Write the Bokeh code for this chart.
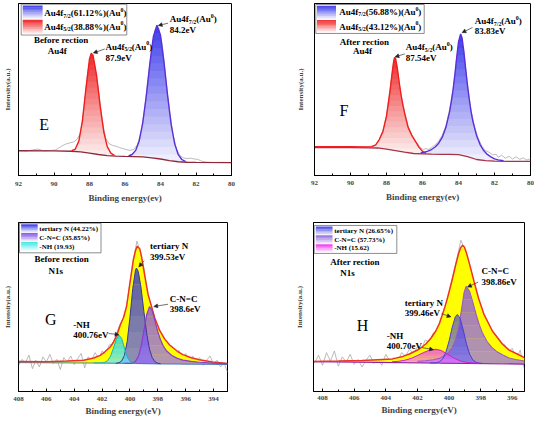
import numpy as np
from bokeh.plotting import figure
from bokeh.layouts import column, row
from bokeh.models import Range1d, SingleIntervalTicker, FixedTicker, Label, Arrow, NormalHead
from bokeh.embed import file_html
from bokeh.resources import INLINE

SERIF = "Liberation Serif"

# ---------------- data ----------------
# Panel E : Au4f before reaction
E_bg_x = [92, 90, 89, 88.5, 88, 87.5, 87, 86.5, 86, 85.5, 85, 84.5, 84, 83.5, 83, 82.5, 82, 80]
E_bg_y = [14.4, 14.3, 14.1, 13.7, 13.0, 12.2, 11.6, 11.3, 11.1, 11.0, 10.8, 10.3, 9.6, 8.7, 8.0, 7.7, 7.6, 7.5]
E_p52_x = [89.0, 88.8, 88.6, 88.4, 88.2, 88.0, 87.9, 87.8, 87.6, 87.4, 87.2, 87.0, 86.8, 86.6]
E_p52_y = [14.4, 15.4, 20.0, 31.6, 50.7, 67.8, 71.1, 69.8, 58.0, 40.5, 25.6, 16.8, 13.0, 11.75]
E_p72_x = [85.8, 85.6, 85.4, 85.2, 85.0, 84.8, 84.6, 84.4, 84.2, 84.0, 83.8, 83.6, 83.4, 83.2, 83.0, 82.8, 82.6]
E_p72_y = [11.35, 12.2, 14.6, 20.1, 30.6, 46.3, 65.0, 80.9, 87.4, 81.5, 65.6, 46.4, 29.7, 18.4, 12.1, 9.3, 8.2]
E_raw_x = [92.0, 91.6, 91.2, 90.9, 90.6, 90.2, 89.9, 89.7, 89.5, 89.3, 89.1, 88.9, 88.7, 88.5, 88.3, 88.1,
           87.9, 87.7, 87.5, 87.3, 87.1, 86.9, 86.7, 86.5, 86.3, 86.1, 85.9, 85.7, 85.5, 85.3, 85.1, 84.9,
           84.7, 84.5, 84.3, 84.1, 83.9, 83.7, 83.5, 83.3, 83.1, 82.9, 82.7, 82.5, 82.3, 82.1, 81.9, 81.7,
           81.4, 81.0, 80.5, 80.0]
E_raw_y = [14.6, 14.2, 14.8, 15.4, 14.3, 14.5, 14.9, 16.2, 17.5, 18.4, 19.0, 19.5, 21.0, 25.0, 40.0, 60.0,
           70.5, 64.0, 50.0, 33.0, 22.0, 18.5, 17.5, 17.0, 16.2, 15.6, 15.0, 14.6, 15.2, 18.0, 25.0, 38.0,
           56.0, 73.0, 85.0, 86.0, 76.0, 56.0, 38.0, 24.0, 15.5, 11.5, 10.2, 9.8, 10.1, 9.6, 9.4, 8.4,
           7.8, 7.6, 7.7, 7.4]

# Panel F : Au4f after reaction
F_bg_x = [92, 90, 89, 88.5, 88, 87.5, 87, 86.5, 86, 85.5, 85, 84.5, 84, 83.5, 83, 82.5, 82, 80]
F_bg_y = [16.2, 16.2, 16.1, 16.0, 15.3, 14.5, 13.6, 12.8, 12.6, 12.4, 12.3, 12.3, 12.1, 11.0, 9.3, 8.6, 8.3, 8.2]
F_p52_x = [92.0, 90.0, 89.2, 88.8, 88.6, 88.4, 88.2, 88.0, 87.9, 87.8, 87.7, 87.6, 87.55, 87.5, 87.4,
           87.3, 87.2, 87.1, 87.0, 86.8, 86.6, 86.4, 86.2, 86.0, 85.8]
F_p52_y = [16.8, 16.8, 16.6, 16.8, 17.8, 20.9, 25.5, 34.5, 41.9, 49.5, 58.5, 66.5, 68.6, 68.0, 62.5,
           54.5, 47.5, 41.5, 36.5, 28.0, 23.5, 20.0, 16.5, 14.0, 12.9]
F_p72_x = [86.1, 85.9, 85.7, 85.5, 85.3, 85.1, 84.9, 84.7, 84.5, 84.4, 84.3, 84.2, 84.1, 84.0, 83.88,
           83.8, 83.7, 83.6, 83.5, 83.4, 83.3, 83.2, 83.0, 82.8, 82.6, 82.4, 82.2, 82.0, 81.8, 81.5]
F_p72_y = [13.1, 13.55, 14.2, 15.1, 16.55, 18.8, 22.3, 28.0, 36.8, 42.95, 50.0, 58.7, 68.75, 77.6, 82.3,
           79.9, 71.8, 61.7, 52.3, 44.2, 37.0, 31.5, 23.3, 18.0, 14.5, 12.25, 10.8, 9.7, 9.1, 8.6]
F_raw_x = [92.0, 91.5, 91.0, 90.5, 90.0, 89.5, 89.0, 88.6, 88.4, 88.2, 88.0, 87.8, 87.6, 87.5, 87.4,
           87.2, 87.0, 86.8, 86.6, 86.4, 86.2, 86.1, 85.95, 85.8, 85.7, 85.5, 85.3, 85.1, 84.9, 84.7,
           84.5, 84.3, 84.1, 83.9, 83.7, 83.5, 83.3, 83.1, 82.9, 82.7, 82.5, 82.3, 82.1, 81.9, 81.8,
           81.6, 81.4, 81.2, 81.0, 80.8, 80.6, 80.4, 80.2, 80.0]
F_raw_y = [16.9, 16.6, 16.8, 16.5, 16.9, 16.6, 16.8, 17.6, 21.0, 26.0, 35.0, 50.0, 66.0, 68.5, 62.0,
           47.0, 37.0, 28.5, 23.5, 20.0, 17.5, 16.0, 15.0, 15.8, 15.0, 16.2, 17.8, 20.0, 23.5, 29.0,
           38.0, 50.0, 68.0, 81.5, 72.0, 52.5, 37.5, 28.0, 21.5, 17.0, 14.5, 13.5, 12.0, 12.3, 10.5,
           11.8, 10.0, 11.2, 9.6, 10.9, 9.4, 10.2, 9.0, 9.8]

# Panel G : N1s before reaction
G_bg_x = [408, 402, 400, 398, 393]
G_bg_y = [17.1, 16.8, 16.6, 16.3, 16.0]
G_env_x = [408, 406, 404.5, 403.33, 402.6, 402.14, 401.8, 401.42, 401.2, 400.95, 400.67, 400.46, 400.24,
           400.0, 399.76, 399.6, 399.48, 399.3, 399.17, 398.93, 398.7, 398.46, 398.22, 397.86, 397.5,
           397.15, 396.6, 396.2, 395.6, 395.02, 394.07, 393.0]
G_env_y = [17.7, 17.6, 18.0, 18.5, 19.8, 21.4, 23.5, 26.3, 29.0, 33.1, 39.9, 43.8, 50.6,
           64.2, 77.8, 83.5, 86.0, 84.5, 79.8, 68.1, 57.4, 50.5, 43.5, 36.0, 31.0,
           27.5, 23.8, 21.8, 20.0, 18.8, 17.4, 16.6]
G_t_x = [401.0, 400.8, 400.6, 400.4, 400.2, 400.0, 399.8, 399.6, 399.53, 399.4, 399.2, 399.0, 398.8,
         398.6, 398.4, 398.2, 398.0, 397.8]
G_t_y = [16.75, 17.0, 18.0, 21.3, 29.5, 43.9, 61.0, 72.1, 73.0, 71.0, 61.1, 47.3, 34.3,
         25.1, 20.0, 17.6, 16.7, 16.4]
G_c_x = [400.4, 400.0, 399.8, 399.6, 399.4, 399.2, 399.0, 398.8, 398.6, 398.4, 398.2, 398.0, 397.8,
         397.6, 397.4, 397.0, 396.6, 396.2, 395.6, 395.0, 394.0, 393.0]
G_c_y = [16.6, 16.66, 16.9, 17.9, 20.6, 26.7, 36.0, 45.5, 50.2, 47.8, 41.7, 35.4, 30.4,
         26.8, 24.3, 21.3, 19.6, 18.6, 17.8, 17.3, 16.8, 16.5]
G_n_x = [402.6, 402.2, 402.0, 401.8, 401.6, 401.4, 401.2, 401.0, 400.8, 400.6, 400.4, 400.2, 400.0, 399.8, 399.6]
G_n_y = [16.9, 16.9, 16.95, 17.3, 18.3, 20.8, 25.3, 30.5, 33.4, 31.5, 25.8, 20.6, 17.8, 16.85, 16.6]
G_raw_x = [408.0, 407.75, 407.5, 407.25, 407.0, 406.75, 406.5, 406.25, 406.0, 405.75,
           405.5, 405.25, 405.0, 404.75, 404.5, 404.25, 404.0, 403.75, 403.5, 403.25,
           403.0, 402.75, 402.5, 402.25, 402.0, 401.75, 401.5, 401.25, 401.0, 400.75,
           400.5, 400.25, 400.0, 399.75, 399.5, 399.25, 399.0, 398.75, 398.5, 398.25,
           398.0, 397.75, 397.5, 397.25, 397.0, 396.75, 396.5, 396.25, 396.0, 395.75,
           395.5, 395.25, 395.0, 394.75, 394.5, 394.25, 394.0, 393.75, 393.5, 393.25, 393.0]
G_raw_y = [15.5, 19.0, 17.0, 21.5, 13.5, 18.5, 14.5, 20.5, 17.5, 22.0,
           16.5, 19.0, 13.0, 20.0, 17.5, 21.0, 16.0, 19.5, 22.5, 14.0,
           20.5, 18.5, 23.0, 19.5, 24.0, 22.0, 27.5, 28.0, 33.5, 39.0,
           43.0, 49.5, 65.0, 78.0, 89.0, 82.0, 73.0, 57.0, 51.5, 44.0,
           36.5, 33.0, 30.5, 25.5, 27.0, 22.0, 24.5, 19.5, 22.5, 18.0,
           21.0, 17.0, 20.0, 15.5, 18.5, 21.0, 16.0, 18.5, 14.5, 17.0, 11.5]

# Panel H : N1s after reaction
H_bg_x = [408.57, 395.23]
H_bg_y = [17.7, 16.2]
H_env_x = [408.57, 407.0, 405.5, 404.5, 403.57, 403.0, 402.51, 401.9, 401.47, 401.15, 400.84, 400.6,
           400.42, 400.25, 400.1, 399.83, 399.58, 399.4, 399.27, 399.15, 399.03, 398.9, 398.69,
           398.42, 398.14, 397.79, 397.26, 396.63, 396.2, 395.69, 395.23]
H_env_y = [17.8, 18.0, 18.3, 18.8, 19.3, 20.5, 22.2, 25.0, 28.1, 31.5, 35.8, 40.5,
           45.6, 50.5, 55.3, 65.1, 74.9, 81.5, 85.0, 86.5, 85.5, 82.0, 74.9,
           65.1, 55.3, 45.6, 35.8, 28.1, 24.5, 22.2, 20.0]
H_t_x = [401.2, 400.8, 400.6, 400.4, 400.2, 400.0, 399.8, 399.6, 399.47, 399.3, 399.1, 398.9, 398.7,
         398.5, 398.3, 398.1, 397.9]
H_t_y = [16.9, 17.0, 17.6, 19.3, 23.2, 29.8, 38.0, 44.3, 45.6, 43.3, 36.3, 28.2, 22.1,
         18.7, 17.3, 16.8, 16.65]
H_c_x = [402.0, 401.5, 401.0, 400.6, 400.2, 400.0, 399.8, 399.6, 399.4, 399.2, 399.05, 398.92, 398.7,
         398.5, 398.3, 398.1, 397.9, 397.6, 397.3, 397.0, 396.6, 396.2, 395.8, 395.23]
H_c_y = [17.9, 18.2, 18.8, 19.6, 21.7, 23.4, 25.9, 30.3, 37.6, 49.2, 58.6, 62.2, 59.2,
         53.0, 46.0, 39.8, 34.9, 29.6, 26.1, 23.7, 21.6, 19.8, 18.9, 18.0]
H_n_x = [403.6, 403.2, 402.8, 402.4, 402.0, 401.6, 401.2, 400.84, 400.5, 400.1, 399.7, 399.3, 398.9, 398.5, 398.1]
H_n_y = [17.6, 17.85, 18.5, 19.6, 21.3, 23.1, 24.6, 25.0, 24.3, 22.1, 19.8, 18.1, 17.2, 16.9, 16.8]
H_raw_x = [408.5, 408.25, 408.0, 407.75, 407.5, 407.25, 407.0, 406.75, 406.5, 406.25,
           406.0, 405.75, 405.5, 405.25, 405.0, 404.75, 404.5, 404.25, 404.0, 403.75,
           403.5, 403.25, 403.0, 402.75, 402.5, 402.25, 402.0, 401.75, 401.5, 401.25,
           401.0, 400.75, 400.5, 400.25, 400.0, 399.75, 399.5, 399.25, 399.0, 398.75,
           398.5, 398.25, 398.0, 397.75, 397.5, 397.25, 397.0, 396.75, 396.5, 396.25,
           396.0, 395.75, 395.5, 395.25]
H_raw_y = [17.0, 21.5, 15.5, 23.0, 18.0, 24.0, 15.0, 20.5, 17.5, 22.0,
           16.0, 19.0, 14.5, 18.5, 21.5, 16.5, 19.0, 15.5, 22.0, 18.0,
           20.0, 17.5, 23.0, 21.0, 25.0, 22.5, 26.5, 25.0, 30.5, 29.0,
           34.5, 36.0, 43.0, 50.0, 58.0, 69.0, 79.0, 89.5, 84.0, 76.0,
           66.0, 58.5, 49.0, 44.0, 40.0, 35.0, 33.0, 28.5, 28.0, 24.0,
           25.5, 19.0, 24.5, 13.5]

# legend / annotation texts
E_legend = ["61.12%", "38.88%"]
F_legend = ["56.88%", "43.12%"]
G_legend = ["tertiary N (44.22%)", "C-N=C (35.85%)", "-NH (19.93)"]
H_legend = ["tertiary N (26.65%)", "C-N=C (57.73%)", "-NH (15.62)"]

# ---------------- helpers ----------------
W = {'A': .722, 'u': .556, 'f': .333, '(': .333, ')': .333, '.': .25, '%': 1.0, '/': .278, ' ': .25,
     'e': .444, 'V': .722, 'N': .722, 'C': .722, '=': .570, '-': .333, 'H': .778, 't': .333, 'r': .444,
     'i': .278, 'a': .5, 'y': .5, 'n': .556, 's': .389}


def width_px(s, size):
    return sum(W.get(ch, 0.5) for ch in s) * size


def mix(c1, c2, t):
    return "#%02x%02x%02x" % tuple(int(round(a + (b - a) * t)) for a, b in zip(c1, c2))


GEOM = {
    "E": dict(origin=(8, 8), frame=(24, 239, 11, 183), xr=(92, 80)),
    "F": dict(origin=(275, 8), frame=(322, 538, 9, 183), xr=(92, 80)),
    "G": dict(origin=(8, 217), frame=(24, 235, 229, 400), xr=(408, 393)),
    "H": dict(origin=(275, 217), frame=(321, 532, 230, 401), xr=(408.57, 395.23)),
}


def P(g, px, py):
    fl, fr, ft, fb = g["frame"]
    x0, x1 = g["xr"]
    return x0 + (px - fl) / (fr - fl) * (x1 - x0), (fb - py) / (fb - ft) * 100.0


def make_fig(g, xlabel, ylab_so, tick_so, title_so):
    ox, oy = g["origin"]
    fl, fr, ft, fb = g["frame"]
    p = figure(width=267, height=209, x_range=Range1d(*g["xr"]), y_range=Range1d(0, 100),
               output_backend="svg", toolbar_location=None, title=None,
               min_border_left=fl - ox, min_border_right=ox + 267 - fr,
               min_border_top=ft - oy, min_border_bottom=oy + 209 - fb)
    p.xgrid.visible = False
    p.ygrid.visible = False
    p.outline_line_color = "black"
    p.outline_line_width = 1
    p.outline_line_alpha = 1
    p.background_fill_color = "white"
    p.border_fill_color = "white"
    xa = p.xaxis[0]
    xa.ticker = SingleIntervalTicker(interval=2, num_minor_ticks=2)
    xa.axis_label = xlabel
    xa.axis_label_text_font = SERIF
    xa.axis_label_text_font_style = "bold"
    xa.axis_label_text_font_size = "9px"
    xa.axis_label_standoff = title_so
    xa.major_label_text_font = SERIF
    xa.major_label_text_font_style = "bold"
    xa.major_label_text_font_size = "7px"
    xa.major_label_standoff = tick_so
    xa.major_tick_in = 3
    xa.major_tick_out = 0
    xa.minor_tick_in = 2
    xa.minor_tick_out = 0
    xa.axis_line_color = "black"
    xa.major_tick_line_color = "black"
    xa.minor_tick_line_color = "black"
    ya = p.yaxis[0]
    ya.ticker = FixedTicker(ticks=[])
    ya.major_tick_in = 0
    ya.major_tick_out = 0
    ya.minor_tick_in = 0
    ya.minor_tick_out = 0
    ya.major_label_standoff = 0
    ya.major_label_text_font_size = "0px"
    ya.axis_label = "Intensity(a.u.)"
    ya.axis_label_text_font = SERIF
    ya.axis_label_text_font_style = "bold"
    ya.axis_label_text_font_size = "7px"
    ya.axis_label_standoff = ylab_so
    ya.axis_line_color = "black"
    return p


def sorted_xy(x, y):
    x = np.asarray(x, float)
    y = np.asarray(y, float)
    o = np.argsort(x)
    return x[o], y[o]


def grad_fill(p, xs, ys, bx, by, c_top, c_bot, alpha=1.0, n=18):
    xs, ys = sorted_xy(xs, ys)
    bx, by = sorted_xy(bx, by)
    xd = np.linspace(xs[0], xs[-1], 500)
    yd = np.interp(xd, xs, ys)
    bd = np.interp(xd, bx, by)
    lo, hi = bd.min(), yd.max()
    lev = np.linspace(lo, hi, n + 1)
    eps = 0.0 if alpha < 1 else (hi - lo) / n * 0.2
    for k in range(n):
        y1 = np.maximum(bd, lev[k])
        y2 = np.maximum(np.minimum(yd, lev[k + 1] + eps), y1)
        p.varea(x=xd, y1=y1, y2=y2, fill_color=mix(c_bot, c_top, (k + 0.5) / n), fill_alpha=alpha)


def solid_fill(p, xs, ys, bx, by, color):
    xs, ys = sorted_xy(xs, ys)
    bx, by = sorted_xy(bx, by)
    p.varea(x=xs, y1=np.interp(xs, bx, by), y2=ys, fill_color=color, fill_alpha=1)


def swatch(p, g, px0, px1, py0, py1, c_top, c_bot, n=8):
    x0, yt = P(g, px0, py0)
    x1, yb = P(g, px1, py1)
    lev = np.linspace(yb, yt, n + 1)
    d = (yt - yb) / n * 0.2
    p.quad(left=[x0] * n, right=[x1] * n, bottom=list(lev[:-1]), top=list(lev[1:] + d),
           fill_color=[mix(c_bot, c_top, (k + 0.5) / n) for k in range(n)], line_color=None)


def box(p, g, px0, px1, py0, py1):
    x0, yt = P(g, px0, py0)
    x1, yb = P(g, px1, py1)
    p.quad(left=[x0], right=[x1], top=[yt], bottom=[yb], fill_color="white",
           line_color="#707070", line_width=0.8)


def txt(p, g, px, py, s, size=9, align="left", style="bold"):
    x, y = P(g, px, py)
    p.add_layout(Label(x=x, y=y, text=s, text_font=SERIF, text_font_style=style,
                       text_font_size="%.1fpx" % size, text_align=align, text_baseline="middle",
                       text_color="black"))


def rich(p, g, px, py, parts, size=9):
    x, y = P(g, px, py)
    off = 0.0
    for s, kind in parts:
        fs = size if kind == "n" else size * 0.65
        dy = 0.0 if kind == "n" else (-0.28 * size if kind == "sub" else 0.36 * size)
        p.add_layout(Label(x=x, y=y, x_offset=off, y_offset=dy, text=s, text_font=SERIF,
                           text_font_style="bold", text_font_size="%.1fpx" % fs,
                           text_align="left", text_baseline="middle", text_color="black"))
        off += width_px(s, fs)


def arrow(p, g, a, b):
    x0, y0 = P(g, *a)
    x1, y1 = P(g, *b)
    p.add_layout(Arrow(x_start=x0, y_start=y0, x_end=x1, y_end=y1, line_color="#333333",
                       line_width=0.7, end=NormalHead(size=4, fill_color="#222222",
                                                      line_color="#222222", line_width=0.5)))


def au_parts(sub, pct=None):
    if pct is None:
        return [("Au4f", "n"), (sub, "sub"), ("(Au", "n"), ("0", "sup"), (")", "n")]
    return [("Au4f", "n"), (sub, "sub"), ("(%s)(Au" % pct, "n"), ("0", "sup"), (")", "n")]


RED_TOP, RED_BOT = (238, 40, 40), (253, 242, 242)
BLUE_TOP, BLUE_BOT = (60, 60, 235), (243, 243, 253)
RAW = "#a9a9a9"

# ---------------- panel E ----------------
g = GEOM["E"]
pE = make_fig(g, "Binding energy(ev)", 7, 6, 4)
pE.line(E_raw_x, E_raw_y, line_color=RAW, line_width=0.8)
grad_fill(pE, E_p52_x, E_p52_y, E_bg_x, E_bg_y, RED_TOP, RED_BOT)
grad_fill(pE, E_p72_x, E_p72_y, E_bg_x, E_bg_y, BLUE_TOP, BLUE_BOT)
pE.line(E_bg_x, E_bg_y, line_color="#8c2a3a", line_width=1.3)
pE.line(E_p52_x, E_p52_y, line_color="#f21d1d", line_width=1.4)
pE.line(E_p72_x, E_p72_y, line_color="#5a2fd9", line_width=1.4)
box(pE, g, 26.7, 133.3, 11.7, 42.5)
swatch(pE, g, 28.3, 48.3, 13.3, 26.7, BLUE_TOP, (255, 255, 255))
swatch(pE, g, 28.3, 48.3, 27.7, 41.7, RED_TOP, (255, 255, 255))
rich(pE, g, 50, 20.7, au_parts("7/2", E_legend[0]))
rich(pE, g, 50, 34.0, au_parts("5/2", E_legend[1]))
txt(pE, g, 67, 47.7, "Before rection", align="center")
txt(pE, g, 63, 58.3, "Au4f", align="center")
rich(pE, g, 111.7, 54.0, au_parts("5/2"))
txt(pE, g, 111.7, 65.7, "87.9eV")
rich(pE, g, 176.7, 26.7, au_parts("7/2"))
txt(pE, g, 176.7, 37.7, "84.2eV")
arrow(pE, g, (111, 56.5), (99.5, 60.5))
arrow(pE, g, (175, 30.7), (165, 33))
txt(pE, g, 50, 131.7, "E", size=16, align="center", style="normal")

# ---------------- panel F ----------------
g = GEOM["F"]
pF = make_fig(g, "Binding energy(ev)", 10, 5, 4)
pF.line(F_raw_x, F_raw_y, line_color=RAW, line_width=0.8)
grad_fill(pF, F_p52_x, F_p52_y, F_bg_x, F_bg_y, RED_TOP, RED_BOT)
grad_fill(pF, F_p72_x, F_p72_y, F_bg_x, F_bg_y, BLUE_TOP, BLUE_BOT)
pF.line(F_bg_x, F_bg_y, line_color="#a83248", line_width=1.3)
pF.line(F_p52_x, F_p52_y, line_color="#f21d1d", line_width=1.4)
pF.line(F_p72_x, F_p72_y, line_color="#5a2fd9", line_width=1.4)
box(pF, g, 323.3, 431.7, 10, 39.3)
swatch(pF, g, 324.5, 343.5, 11.5, 25.0, BLUE_TOP, (255, 255, 255))
swatch(pF, g, 324.5, 343.5, 26.0, 38.5, RED_TOP, (255, 255, 255))
rich(pF, g, 346.7, 17.5, au_parts("7/2", F_legend[0]))
rich(pF, g, 346.7, 32.3, au_parts("5/2", F_legend[1]))
txt(pF, g, 372, 47.7, "After rection", align="center")
txt(pF, g, 370, 57.3, "Au4f", align="center")
rich(pF, g, 413.3, 53.3, au_parts("5/2"))
txt(pF, g, 413.3, 64.0, "87.54eV")
rich(pF, g, 482.3, 26.7, au_parts("7/2"))
txt(pF, g, 482.3, 37.3, "83.83eV")
arrow(pF, g, (412.3, 60), (402.5, 63))
arrow(pF, g, (480, 33.3), (469.5, 38.5))
txt(pF, g, 351.5, 117, "F", size=16, align="center", style="normal")

# ---------------- panel G ----------------
g = GEOM["G"]
pG = make_fig(g, "Binding energy(eV)", 7, 5, 2)
pG.line(G_raw_x, G_raw_y, line_color=RAW, line_width=0.8)
solid_fill(pG, G_env_x, G_env_y, G_bg_x, G_bg_y, "#ffff00")
grad_fill(pG, G_t_x, G_t_y, G_bg_x, G_bg_y, (20, 20, 230), (100, 100, 255), alpha=0.7, n=6)
grad_fill(pG, G_c_x, G_c_y, G_bg_x, G_bg_y, (120, 60, 250), (150, 110, 250), alpha=0.7, n=6)
grad_fill(pG, G_n_x, G_n_y, G_bg_x, G_bg_y, (0, 210, 255), (110, 230, 255), alpha=0.75, n=6)
pG.line(G_bg_x, G_bg_y, line_color="#3a6fc0", line_width=0.9)
pG.line(G_env_x, G_env_y, line_color="#ee3322", line_width=1.5)
pG.line(G_t_x, G_t_y, line_color="#3a3a90", line_width=1.0)
pG.line(G_c_x, G_c_y, line_color="#8d3cc9", line_width=1.2)
pG.line(G_n_x, G_n_y, line_color="#18b4b4", line_width=1.0)
box(pG, g, 25, 107.3, 229.7, 259.7)
swatch(pG, g, 26.7, 43.3, 231.0, 239.5, (60, 60, 230), (255, 255, 255), n=6)
swatch(pG, g, 26.7, 43.3, 240.0, 248.5, (130, 80, 230), (255, 255, 255), n=6)
swatch(pG, g, 26.7, 43.3, 249.0, 258.0, (60, 230, 230), (255, 255, 255), n=6)
txt(pG, g, 45, 236.0, G_legend[0], size=7)
txt(pG, g, 45, 244.5, G_legend[1], size=7)
txt(pG, g, 45, 253.3, G_legend[2], size=7)
txt(pG, g, 67.5, 266, "Before rection", align="center")
txt(pG, g, 61.7, 278, "N1s", align="center")
txt(pG, g, 56.7, 327, "G", size=16, align="center", style="normal")
txt(pG, g, 79.3, 333, "-NH")
txt(pG, g, 79.3, 343, "400.76eV")
txt(pG, g, 156.7, 252.7, "tertiary N")
txt(pG, g, 156.7, 263.7, "399.53eV")
txt(pG, g, 176.7, 306.3, "C-N=C")
txt(pG, g, 176.7, 316.3, "398.6eV")
arrow(pG, g, (115, 341.3), (125.5, 342.5))
arrow(pG, g, (150.7, 267.7), (145.5, 274))
arrow(pG, g, (175, 311.7), (160.5, 314))

# ---------------- panel H ----------------
g = GEOM["H"]
pH = make_fig(g, "Binding energy(eV)", 10, 4, 2)
pH.line(H_raw_x, H_raw_y, line_color=RAW, line_width=0.8)
solid_fill(pH, H_env_x, H_env_y, H_bg_x, H_bg_y, "#ffff00")
grad_fill(pH, H_c_x, H_c_y, H_bg_x, H_bg_y, (120, 60, 250), (150, 110, 250), alpha=0.7, n=6)
grad_fill(pH, H_t_x, H_t_y, H_bg_x, H_bg_y, (40, 40, 230), (110, 110, 255), alpha=0.6, n=6)
grad_fill(pH, H_n_x, H_n_y, H_bg_x, H_bg_y, (230, 40, 255), (245, 130, 255), alpha=0.7, n=6)
pH.line(H_bg_x, H_bg_y, line_color="#8a22a8", line_width=1.1)
pH.line(H_env_x, H_env_y, line_color="#ee3322", line_width=1.5)
pH.line(H_c_x, H_c_y, line_color="#9a5cc0", line_width=1.1)
pH.line(H_t_x, H_t_y, line_color="#4a3fd0", line_width=1.0)
pH.line(H_n_x, H_n_y, line_color="#d21ed2", line_width=1.0)
box(pH, g, 321.7, 404.3, 233, 261.3)
swatch(pH, g, 323.3, 340, 234.3, 243.0, (70, 70, 230), (255, 255, 255), n=6)
swatch(pH, g, 323.3, 340, 243.3, 252.0, (150, 110, 220), (255, 255, 255), n=6)
swatch(pH, g, 323.3, 340, 252.3, 260.5, (240, 60, 240), (255, 255, 255), n=6)
txt(pH, g, 341.7, 238.7, H_legend[0], size=7)
txt(pH, g, 341.7, 247.7, H_legend[1], size=7)
txt(pH, g, 341.7, 256.3, H_legend[2], size=7)
txt(pH, g, 362.5, 269.7, "After rection", align="center")
txt(pH, g, 355, 281, "N1s", align="center")
txt(pH, g, 370, 334.3, "H", size=16, align="center", style="normal")
txt(pH, g, 394.3, 344.7, "-NH")
txt(pH, g, 394.3, 355, "400.70eV")
txt(pH, g, 412.3, 311.8, "tertiary N")
txt(pH, g, 412.3, 321.8, "399.46eV")
txt(pH, g, 489, 279, "C-N=C")
txt(pH, g, 489, 290, "398.86eV")
arrow(pH, g, (429.5, 356.5), (441, 358.8))
arrow(pH, g, (449, 322.3), (458.5, 325.5))
arrow(pH, g, (485.7, 290.3), (475, 295.3))

layout = column(row(pE, pF), row(pG, pH))
open("out.html", "w").write(file_html(layout, INLINE))
